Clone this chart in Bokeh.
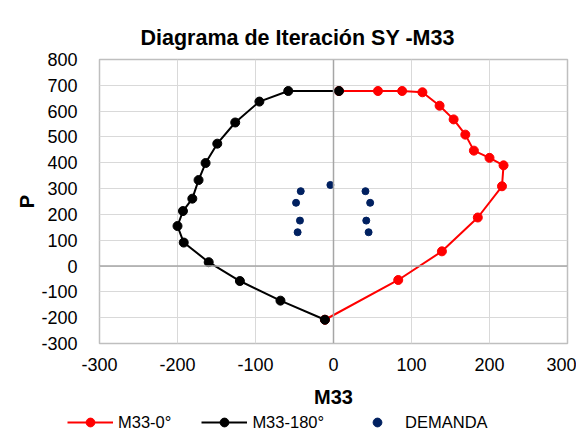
from bokeh.plotting import figure
from bokeh.layouts import column, row
from bokeh.models import (Range1d, FixedTicker, Span, Legend, LegendItem, Title)
from bokeh.embed import file_html
from bokeh.resources import INLINE

# M33-0°
m33_0 = [7, 57, 88, 114, 136, 154, 169, 180, 200, 218, 216, 185, 139, 83, -11]
p_0 = [678, 678, 678, 673, 621, 568, 509, 447, 419, 390, 309, 188, 57, -54, -208]
# M33-180°
m33_180 = [7, -58, -95, -126, -149, -164, -173, -181, -193, -200, -192, -160, -120, -68, -11]
p_180 = [678, 678, 637, 556, 474, 399, 333, 261, 213, 155, 91, 15, -58, -134, -208]
# DEMANDA
dem_m = [-4, -42, -48, -43, -46, 41, 47, 42, 45]
dem_p = [314, 290, 245, 176, 131, 290, 245, 176, 131]

x_ticks = [-300, -200, -100, 0, 100, 200, 300]
y_ticks = [-300, -200, -100, 0, 100, 200, 300, 400, 500, 600, 700, 800]

series_labels = ["M33-0°", "M33-180°", "DEMANDA"]
RED, BLACK, NAVY = "#ff0000", "#000000", "#002060"

FONT = "Liberation Sans"

p = figure(width=576, height=410, output_backend="svg", toolbar_location=None,
           x_range=Range1d(-300, 300), y_range=Range1d(-300, 800),
           min_border_left=99, min_border_right=9, min_border_top=59, min_border_bottom=67)

p.title = Title(text="Diagrama de Iteración SY -M33", text_font=FONT, text_font_size="21.5px",
                text_font_style="bold", text_color="#000000", align="left", offset=41,
                standoff=19)

p.outline_line_color = "#bfbfbf"
p.outline_line_width = 1.5

for ax in (p.xaxis[0], p.yaxis[0]):
    ax.axis_line_color = None
    ax.major_tick_line_color = None
    ax.minor_tick_line_color = None
    ax.major_label_text_font = FONT
    ax.major_label_text_font_size = "18px"
    ax.major_label_text_color = "#000000"
    ax.axis_label_text_font = FONT
    ax.axis_label_text_font_size = "20px"
    ax.axis_label_text_font_style = "bold"
    ax.axis_label_text_color = "#000000"

p.xaxis.ticker = FixedTicker(ticks=x_ticks)
p.yaxis.ticker = FixedTicker(ticks=y_ticks)
p.xaxis.major_label_overrides = {t: str(t) for t in x_ticks}
p.yaxis.major_label_overrides = {t: str(t) for t in y_ticks}
p.xaxis.axis_label = "M33"
p.yaxis.axis_label = "P"
p.xaxis.major_label_standoff = 8
p.yaxis.major_label_standoff = 16
p.xaxis.axis_label_standoff = 12
p.yaxis.axis_label_standoff = 0

p.xgrid.ticker = FixedTicker(ticks=x_ticks)
p.ygrid.ticker = FixedTicker(ticks=y_ticks)
p.grid.grid_line_color = "#d9d9d9"
p.grid.grid_line_width = 1

p.add_layout(Span(location=0, dimension="height", line_color="#a6a6a6", line_width=1.5))
p.add_layout(Span(location=0, dimension="width", line_color="#a6a6a6", line_width=1.5))

p.line(m33_0, p_0, line_color=RED, line_width=2)
p.scatter(m33_0, p_0, size=9, fill_color=RED, line_color=RED)
p.line(m33_180, p_180, line_color=BLACK, line_width=2)
p.scatter(m33_180, p_180, size=9, fill_color=BLACK, line_color=BLACK)
p.scatter(dem_m, dem_p, size=7, fill_color=NAVY, line_color=NAVY)

# legend strip below the chart: same series, drawn in a strip whose ranges hold none of them
q = figure(width=576, height=26, output_backend="svg", toolbar_location=None,
           x_range=Range1d(0, 1), y_range=Range1d(0, 1),
           min_border_left=0, min_border_right=0, min_border_top=0, min_border_bottom=0)
q.axis.visible = False
q.grid.visible = False
q.outline_line_color = None
lr0 = q.line(m33_0, p_0, line_color=RED, line_width=2)
ls0 = q.scatter(m33_0, p_0, size=9, fill_color=RED, line_color=RED)
lr1 = q.line(m33_180, p_180, line_color=BLACK, line_width=2)
ls1 = q.scatter(m33_180, p_180, size=9, fill_color=BLACK, line_color=BLACK)
ls2 = q.scatter(dem_m, dem_p, size=7, fill_color=NAVY, line_color=NAVY)

legend = Legend(items=[LegendItem(label=series_labels[0], renderers=[lr0, ls0]),
                       LegendItem(label=series_labels[1], renderers=[lr1, ls1]),
                       LegendItem(label=series_labels[2], renderers=[ls2])],
                orientation="horizontal", location=(67, 3),
                label_text_font=FONT, label_text_font_size="16.5px", label_text_color="#000000",
                glyph_width=46, glyph_height=22, label_standoff=5, spacing=30,
                padding=0, margin=0, border_line_color=None, background_fill_alpha=0)
q.add_layout(legend, "center")

layout = column(p, row(q), spacing=0)
open("out.html", "w").write(file_html(layout, INLINE))
